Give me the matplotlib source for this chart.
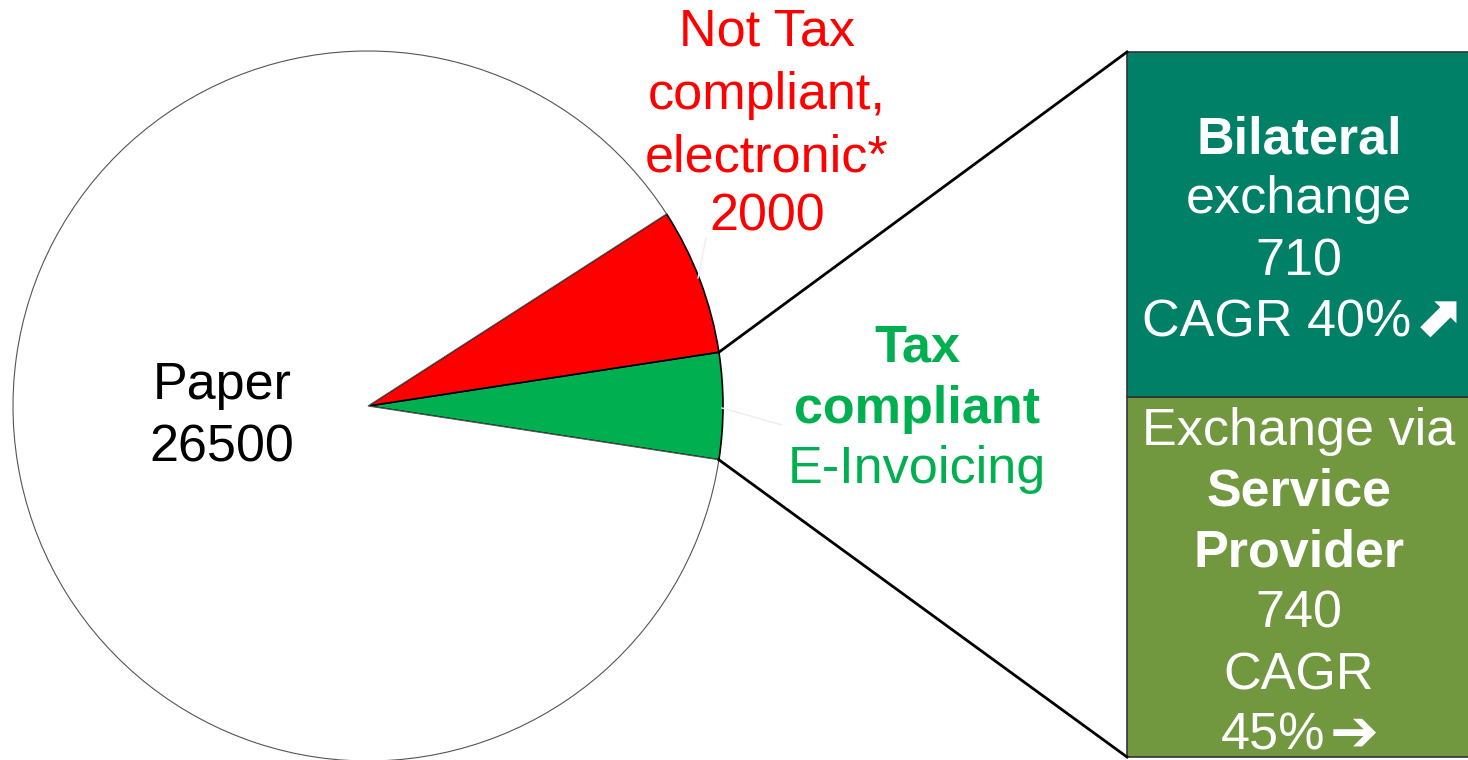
import matplotlib.pyplot as plt
import numpy as np

plt.rcParams['font.family'] = ['Liberation Sans', 'DejaVu Sans']

# pie data
pie_labels = ['Tax compliant E-Invoicing', 'Not Tax compliant, electronic*', 'Paper']
pie_values = [1450, 2000, 26500]
pie_colors = ['#00B050', '#FF0000', '#FFFFFF']

# bar-of-pie data (split of the tax compliant part)
bar_labels = ['Exchange via Service Provider', 'Bilateral exchange']
bar_values = [740, 710]
bar_colors = ['#71973F', '#008066']

W, H = 1468, 760
fig = plt.figure(figsize=(W / 100, H / 100), dpi=100)
ax = fig.add_axes([0, 0, 1, 1])

center = (368, H - 406)
radius = 355
start = -360 * pie_values[0] / sum(pie_values) / 2

wedges, _ = ax.pie(pie_values, colors=pie_colors, startangle=start,
                   center=center, radius=radius, counterclock=True,
                   wedgeprops=dict(edgecolor='black', linewidth=1.2))
wedges[2].set_edgecolor('#555555')
wedges[2].set_linewidth(0.8)

# stacked bar on the right
bar_x, bar_w = 1127, 345
bar_bottom, bar_top = H - 757, H - 52
scale = (bar_top - bar_bottom) / sum(bar_values)
bottom = bar_bottom
for v, c in zip(bar_values, bar_colors):
    ax.bar(bar_x, v * scale, width=bar_w, bottom=bottom, align='edge',
           color=c, edgecolor='#333333', linewidth=1.2)
    bottom += v * scale

# connector lines from green wedge to bar
t1 = np.deg2rad(start)
t2 = np.deg2rad(start + 360 * pie_values[0] / sum(pie_values))
p_low = (center[0] + radius * np.cos(t1), center[1] + radius * np.sin(t1))
p_up = (center[0] + radius * np.cos(t2), center[1] + radius * np.sin(t2))
ax.plot([p_up[0], bar_x], [p_up[1], bar_top], color='black', lw=2)
ax.plot([p_low[0], bar_x], [p_low[1], bar_bottom], color='black', lw=2)

# faint leader lines
ax.plot([706, 698], [H - 238, H - 278], color='#EEEEEE', lw=1)
ax.plot([722, 782], [H - 408, H - 425], color='#EEEEEE', lw=1)

fs = 37.5
def txt(x, y, s, color, bold=False):
    ax.text(x, H - y, s, ha='center', va='center', fontsize=fs, color=color,
            fontweight='bold' if bold else 'normal')

txt(222, 385, 'Paper', 'black')
txt(222, 448, '26500', 'black')

for y, s in zip([32, 95, 158, 217], ['Not Tax', 'compliant,', 'electronic*', '2000']):
    txt(767, y, s, '#FF0000')

txt(917, 348, 'Tax', '#00B050', True)
txt(917, 410, 'compliant', '#00B050', True)
txt(917, 470, 'E-Invoicing', '#00B050')

bx = 1299
txt(bx, 140, 'Bilateral', 'white', True)
txt(bx, 200, 'exchange', 'white')
txt(bx, 262, '710', 'white')
txt(bx - 22, 323, 'CAGR 40%', 'white')
ax.text(1437, H - 320, '\u2B08', ha='center', va='center', fontsize=42,
        color='white', family='DejaVu Sans', fontweight='bold')

txt(bx, 432, 'Exchange via', 'white')
txt(bx, 492, 'Service', 'white', True)
txt(bx, 553, 'Provider', 'white', True)
txt(bx, 614, '740', 'white')
txt(bx, 676, 'CAGR', 'white')
txt(bx - 26, 736, '45%', 'white')
ax.text(1354, H - 734, '\u2794', ha='center', va='center', fontsize=42,
        color='white', family='DejaVu Sans', fontweight='bold')

ax.set_xlim(0, W)
ax.set_ylim(0, H)
ax.set_aspect('auto')
ax.axis('off')

fig.savefig('out.png', dpi=100)
